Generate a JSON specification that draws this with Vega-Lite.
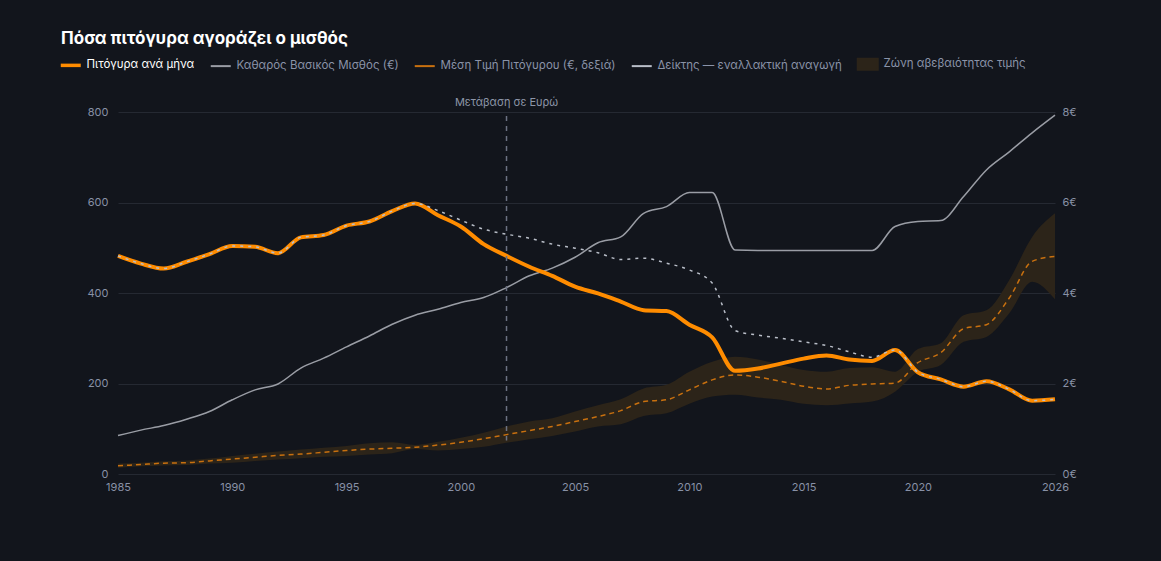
{
  "$schema": "https://vega.github.io/schema/vega-lite/v6.json",
  "width": 937,
  "height": 362,
  "autosize": {"type": "none"},
  "padding": {"left": 118, "top": 112, "right": 106, "bottom": 87},
  "background": "#12151c",
  "title": {
    "text": "Πόσα πιτόγυρα αγοράζει ο μισθός",
    "anchor": "start",
    "frame": "group",
    "dx": -57,
    "fontSize": 17,
    "font": "Inter",
    "fontWeight": "bold",
    "color": "#ffffff",
    "offset": 10
  },
  "data": {
    "values": [
      {"year": 1985, "pita": 482, "salary": 85, "price": 0.18, "lo": 0.14, "hi": 0.23, "idx": 482},
      {"year": 1986, "pita": 465, "salary": 97, "price": 0.21, "lo": 0.17, "hi": 0.25, "idx": 465},
      {"year": 1987, "pita": 454, "salary": 107, "price": 0.24, "lo": 0.19, "hi": 0.28, "idx": 454},
      {"year": 1988, "pita": 469, "salary": 121, "price": 0.25, "lo": 0.20, "hi": 0.30, "idx": 469},
      {"year": 1989, "pita": 486, "salary": 138, "price": 0.29, "lo": 0.23, "hi": 0.34, "idx": 486},
      {"year": 1990, "pita": 504, "salary": 164, "price": 0.33, "lo": 0.25, "hi": 0.40, "idx": 504},
      {"year": 1991, "pita": 502, "salary": 186, "price": 0.37, "lo": 0.29, "hi": 0.45, "idx": 502},
      {"year": 1992, "pita": 488, "salary": 199, "price": 0.41, "lo": 0.32, "hi": 0.50, "idx": 488},
      {"year": 1993, "pita": 523, "salary": 234, "price": 0.44, "lo": 0.35, "hi": 0.54, "idx": 523},
      {"year": 1994, "pita": 528, "salary": 256, "price": 0.48, "lo": 0.38, "hi": 0.58, "idx": 528},
      {"year": 1995, "pita": 549, "salary": 281, "price": 0.52, "lo": 0.40, "hi": 0.62, "idx": 549},
      {"year": 1996, "pita": 558, "salary": 305, "price": 0.55, "lo": 0.43, "hi": 0.68, "idx": 558},
      {"year": 1997, "pita": 581, "salary": 331, "price": 0.57, "lo": 0.46, "hi": 0.70, "idx": 581},
      {"year": 1998, "pita": 598, "salary": 351, "price": 0.59, "lo": 0.55, "hi": 0.64, "idx": 598},
      {"year": 1999, "pita": 572, "salary": 364, "price": 0.64, "lo": 0.52, "hi": 0.71, "idx": 582},
      {"year": 2000, "pita": 547, "salary": 379, "price": 0.70, "lo": 0.55, "hi": 0.80, "idx": 561},
      {"year": 2001, "pita": 508, "salary": 390, "price": 0.78, "lo": 0.60, "hi": 0.91, "idx": 541},
      {"year": 2002, "pita": 482, "salary": 412, "price": 0.87, "lo": 0.69, "hi": 1.05, "idx": 530},
      {"year": 2003, "pita": 458, "salary": 438, "price": 0.96, "lo": 0.77, "hi": 1.16, "idx": 521},
      {"year": 2004, "pita": 438, "salary": 455, "price": 1.05, "lo": 0.84, "hi": 1.23, "idx": 508},
      {"year": 2005, "pita": 414, "salary": 479, "price": 1.16, "lo": 0.94, "hi": 1.38, "idx": 499},
      {"year": 2006, "pita": 399, "salary": 511, "price": 1.27, "lo": 1.05, "hi": 1.52, "idx": 489},
      {"year": 2007, "pita": 381, "salary": 524, "price": 1.40, "lo": 1.10, "hi": 1.65, "idx": 474},
      {"year": 2008, "pita": 362, "salary": 576, "price": 1.60, "lo": 1.28, "hi": 1.89, "idx": 477},
      {"year": 2009, "pita": 360, "salary": 591, "price": 1.64, "lo": 1.34, "hi": 1.97, "idx": 466},
      {"year": 2010, "pita": 330, "salary": 622, "price": 1.86, "lo": 1.55, "hi": 2.26, "idx": 451},
      {"year": 2011, "pita": 302, "salary": 622, "price": 2.08, "lo": 1.71, "hi": 2.48, "idx": 422},
      {"year": 2012, "pita": 228, "salary": 495, "price": 2.19, "lo": 1.75, "hi": 2.59, "idx": 317},
      {"year": 2013, "pita": 233, "salary": 494, "price": 2.14, "lo": 1.69, "hi": 2.53, "idx": 307},
      {"year": 2014, "pita": 244, "salary": 494, "price": 2.05, "lo": 1.64, "hi": 2.41, "idx": 300},
      {"year": 2015, "pita": 255, "salary": 494, "price": 1.94, "lo": 1.55, "hi": 2.30, "idx": 292},
      {"year": 2016, "pita": 262, "salary": 494, "price": 1.88, "lo": 1.52, "hi": 2.26, "idx": 284},
      {"year": 2017, "pita": 253, "salary": 494, "price": 1.96, "lo": 1.56, "hi": 2.34, "idx": 270},
      {"year": 2018, "pita": 250, "salary": 494, "price": 1.99, "lo": 1.60, "hi": 2.36, "idx": 258},
      {"year": 2019, "pita": 274, "salary": 547, "price": 2.01, "lo": 1.82, "hi": 2.26, "idx": 274},
      {"year": 2020, "pita": 225, "salary": 558, "price": 2.46, "lo": 2.26, "hi": 2.76, "idx": 225},
      {"year": 2021, "pita": 209, "salary": 560, "price": 2.68, "lo": 2.41, "hi": 2.89, "idx": 209},
      {"year": 2022, "pita": 193, "salary": 613, "price": 3.21, "lo": 2.92, "hi": 3.51, "idx": 193},
      {"year": 2023, "pita": 205, "salary": 672, "price": 3.30, "lo": 3.03, "hi": 3.62, "idx": 205},
      {"year": 2024, "pita": 187, "salary": 712, "price": 3.89, "lo": 3.55, "hi": 4.29, "idx": 187},
      {"year": 2025, "pita": 162, "salary": 754, "price": 4.70, "lo": 4.25, "hi": 5.24, "idx": 162},
      {"year": 2026, "pita": 165, "salary": 793, "price": 4.81, "lo": 3.86, "hi": 5.76, "idx": 165}
    ]
  },
  "layer": [
    {
      "layer": [
        {
          "mark": {"type": "area", "interpolate": "monotone", "opacity": 1},
          "encoding": {
            "x": {
              "field": "year", "type": "quantitative",
              "scale": {"domain": [1985, 2026], "nice": false, "zero": false},
              "axis": {"values": [1985, 1990, 1995, 2000, 2005, 2010, 2015, 2020, 2026], "format": "d", "title": null, "grid": false, "labelPadding": 7, "labelFlush": false}
            },
            "y": {
              "field": "lo", "type": "quantitative",
              "scale": {"domain": [0, 8], "nice": false},
              "axis": {"orient": "right", "values": [0, 2, 4, 6, 8], "labelExpr": "datum.value + '€'", "title": null, "grid": false, "labelPadding": 7}
            },
            "y2": {"field": "hi"},
            "color": {
              "datum": "Ζώνη αβεβαιότητας τιμής",
              "scale": {
                "domain": ["Πιτόγυρα ανά μήνα", "Καθαρός Βασικός Μισθός (€)", "Μέση Τιμή Πιτόγυρου (€, δεξιά)", "Δείκτης — εναλλακτική αναγωγή", "Ζώνη αβεβαιότητας τιμής"],
                "range": ["#ff8c00", "#9a9da5", "#c8700f", "#b9bec8", "#2c2419"]
              },
              "legend": {
                "orient": "none", "direction": "horizontal", "legendX": -53, "legendY": -54, "title": null,
                "symbolSize": 400, "labelOffset": 10, "columnPadding": 11, "labelLimit": 400,
                "labelFont": "Inter", "labelFontSize": 11.5, "labelColor": "#8a93a8",
                "encode": {
                  "symbols": {"update": {
                    "shape": {"signal": "datum.value === 'Ζώνη αβεβαιότητας τιμής' ? 'M-1,-0.55H1V0.55H-1Z' : 'stroke'"},
                    "fill": {"signal": "datum.value === 'Ζώνη αβεβαιότητας τιμής' ? '#2c2419' : 'transparent'"},
                    "stroke": {"signal": "datum.value === 'Ζώνη αβεβαιότητας τιμής' ? 'transparent' : datum.value === 'Πιτόγυρα ανά μήνα' ? '#ff8c00' : datum.value === 'Καθαρός Βασικός Μισθός (€)' ? '#8f939b' : datum.value === 'Μέση Τιμή Πιτόγυρου (€, δεξιά)' ? '#c8700f' : '#c5c9d1'"},
                    "strokeWidth": {"signal": "datum.value === 'Πιτόγυρα ανά μήνα' ? 3.5 : 2"},
                    "strokeDash": {"value": []},
                    "opacity": {"value": 1}
                  }},
                  "labels": {"update": {"fill": {"signal": "datum.value === 'Πιτόγυρα ανά μήνα' ? '#ffffff' : '#8a93a8'"}}}
                }
              }
            }
          }
        },
        {
          "mark": {"type": "line", "interpolate": "monotone", "strokeDash": [5, 4], "strokeWidth": 1.5},
          "encoding": {
            "x": {"field": "year", "type": "quantitative"},
            "y": {"field": "price", "type": "quantitative"},
            "color": {
              "datum": "Μέση Τιμή Πιτόγυρου (€, δεξιά)",
              "legend": {
                "orient": "none", "direction": "horizontal", "legendX": -53, "legendY": -54, "title": null,
                "symbolSize": 400, "labelOffset": 10, "columnPadding": 11, "labelLimit": 400,
                "labelFont": "Inter", "labelFontSize": 11.5, "labelColor": "#8a93a8",
                "encode": {
                  "symbols": {"update": {
                    "shape": {"signal": "datum.value === 'Ζώνη αβεβαιότητας τιμής' ? 'M-1,-0.55H1V0.55H-1Z' : 'stroke'"},
                    "fill": {"signal": "datum.value === 'Ζώνη αβεβαιότητας τιμής' ? '#2c2419' : 'transparent'"},
                    "stroke": {"signal": "datum.value === 'Ζώνη αβεβαιότητας τιμής' ? 'transparent' : datum.value === 'Πιτόγυρα ανά μήνα' ? '#ff8c00' : datum.value === 'Καθαρός Βασικός Μισθός (€)' ? '#8f939b' : datum.value === 'Μέση Τιμή Πιτόγυρου (€, δεξιά)' ? '#c8700f' : '#c5c9d1'"},
                    "strokeWidth": {"signal": "datum.value === 'Πιτόγυρα ανά μήνα' ? 3.5 : 2"},
                    "strokeDash": {"value": []},
                    "opacity": {"value": 1}
                  }},
                  "labels": {"update": {"fill": {"signal": "datum.value === 'Πιτόγυρα ανά μήνα' ? '#ffffff' : '#8a93a8'"}}}
                }
              }
            }
          }
        }
      ]
    },
    {
      "layer": [
        {
          "mark": {"type": "line", "interpolate": "monotone", "strokeWidth": 1.5},
          "encoding": {
            "x": {"field": "year", "type": "quantitative"},
            "y": {
              "field": "salary", "type": "quantitative",
              "scale": {"domain": [0, 800], "nice": false},
              "axis": {"orient": "left", "values": [0, 200, 400, 600, 800], "title": null, "grid": true, "labelPadding": 10}
            },
            "color": {
              "datum": "Καθαρός Βασικός Μισθός (€)",
              "legend": {
                "orient": "none", "direction": "horizontal", "legendX": -53, "legendY": -54, "title": null,
                "symbolSize": 400, "labelOffset": 10, "columnPadding": 11, "labelLimit": 400,
                "labelFont": "Inter", "labelFontSize": 11.5, "labelColor": "#8a93a8",
                "encode": {
                  "symbols": {"update": {
                    "shape": {"signal": "datum.value === 'Ζώνη αβεβαιότητας τιμής' ? 'M-1,-0.55H1V0.55H-1Z' : 'stroke'"},
                    "fill": {"signal": "datum.value === 'Ζώνη αβεβαιότητας τιμής' ? '#2c2419' : 'transparent'"},
                    "stroke": {"signal": "datum.value === 'Ζώνη αβεβαιότητας τιμής' ? 'transparent' : datum.value === 'Πιτόγυρα ανά μήνα' ? '#ff8c00' : datum.value === 'Καθαρός Βασικός Μισθός (€)' ? '#8f939b' : datum.value === 'Μέση Τιμή Πιτόγυρου (€, δεξιά)' ? '#c8700f' : '#c5c9d1'"},
                    "strokeWidth": {"signal": "datum.value === 'Πιτόγυρα ανά μήνα' ? 3.5 : 2"},
                    "strokeDash": {"value": []},
                    "opacity": {"value": 1}
                  }},
                  "labels": {"update": {"fill": {"signal": "datum.value === 'Πιτόγυρα ανά μήνα' ? '#ffffff' : '#8a93a8'"}}}
                }
              }
            }
          }
        },
        {
          "mark": {"type": "line", "interpolate": "monotone", "strokeWidth": 4},
          "encoding": {
            "x": {"field": "year", "type": "quantitative"},
            "y": {"field": "pita", "type": "quantitative"},
            "color": {
              "datum": "Πιτόγυρα ανά μήνα",
              "legend": {
                "orient": "none", "direction": "horizontal", "legendX": -53, "legendY": -54, "title": null,
                "symbolSize": 400, "labelOffset": 10, "columnPadding": 11, "labelLimit": 400,
                "labelFont": "Inter", "labelFontSize": 11.5, "labelColor": "#8a93a8",
                "encode": {
                  "symbols": {"update": {
                    "shape": {"signal": "datum.value === 'Ζώνη αβεβαιότητας τιμής' ? 'M-1,-0.55H1V0.55H-1Z' : 'stroke'"},
                    "fill": {"signal": "datum.value === 'Ζώνη αβεβαιότητας τιμής' ? '#2c2419' : 'transparent'"},
                    "stroke": {"signal": "datum.value === 'Ζώνη αβεβαιότητας τιμής' ? 'transparent' : datum.value === 'Πιτόγυρα ανά μήνα' ? '#ff8c00' : datum.value === 'Καθαρός Βασικός Μισθός (€)' ? '#8f939b' : datum.value === 'Μέση Τιμή Πιτόγυρου (€, δεξιά)' ? '#c8700f' : '#c5c9d1'"},
                    "strokeWidth": {"signal": "datum.value === 'Πιτόγυρα ανά μήνα' ? 3.5 : 2"},
                    "strokeDash": {"value": []},
                    "opacity": {"value": 1}
                  }},
                  "labels": {"update": {"fill": {"signal": "datum.value === 'Πιτόγυρα ανά μήνα' ? '#ffffff' : '#8a93a8'"}}}
                }
              }
            }
          }
        },
        {
          "mark": {"type": "line", "interpolate": "monotone", "strokeWidth": 1.5, "strokeDash": [3, 5]},
          "encoding": {
            "x": {"field": "year", "type": "quantitative"},
            "y": {"field": "idx", "type": "quantitative"},
            "color": {
              "datum": "Δείκτης — εναλλακτική αναγωγή",
              "legend": {
                "orient": "none", "direction": "horizontal", "legendX": -53, "legendY": -54, "title": null,
                "symbolSize": 400, "labelOffset": 10, "columnPadding": 11, "labelLimit": 400,
                "labelFont": "Inter", "labelFontSize": 11.5, "labelColor": "#8a93a8",
                "encode": {
                  "symbols": {"update": {
                    "shape": {"signal": "datum.value === 'Ζώνη αβεβαιότητας τιμής' ? 'M-1,-0.55H1V0.55H-1Z' : 'stroke'"},
                    "fill": {"signal": "datum.value === 'Ζώνη αβεβαιότητας τιμής' ? '#2c2419' : 'transparent'"},
                    "stroke": {"signal": "datum.value === 'Ζώνη αβεβαιότητας τιμής' ? 'transparent' : datum.value === 'Πιτόγυρα ανά μήνα' ? '#ff8c00' : datum.value === 'Καθαρός Βασικός Μισθός (€)' ? '#8f939b' : datum.value === 'Μέση Τιμή Πιτόγυρου (€, δεξιά)' ? '#c8700f' : '#c5c9d1'"},
                    "strokeWidth": {"signal": "datum.value === 'Πιτόγυρα ανά μήνα' ? 3.5 : 2"},
                    "strokeDash": {"value": []},
                    "opacity": {"value": 1}
                  }},
                  "labels": {"update": {"fill": {"signal": "datum.value === 'Πιτόγυρα ανά μήνα' ? '#ffffff' : '#8a93a8'"}}}
                }
              }
            }
          }
        },
        {
          "data": {"values": [{"label": "Μετάβαση σε Ευρώ"}]},
          "mark": {"type": "rule", "strokeDash": [5, 5], "color": "#6c7283", "strokeWidth": 1.5},
          "encoding": {
            "x": {"datum": 2002},
            "y": {"datum": 791},
            "y2": {"datum": 74}
          }
        },
        {
          "data": {"values": [{"label": "Μετάβαση σε Ευρώ"}]},
          "mark": {"type": "text", "dy": -9, "baseline": "middle", "align": "center", "fontSize": 11, "font": "Inter", "color": "#8d95a8"},
          "encoding": {
            "x": {"datum": 2002},
            "y": {"datum": 800},
            "text": {"field": "label"}
          }
        }
      ]
    }
  ],
  "resolve": {"scale": {"y": "independent"}},
  "config": {
    "view": {"stroke": null},
    "axis": {
      "domain": false,
      "ticks": false,
      "labelColor": "#8891a6",
      "labelFont": "Inter",
      "labelFontSize": 11,
      "gridColor": "#252932",
      "gridWidth": 1
    }
  }
}
